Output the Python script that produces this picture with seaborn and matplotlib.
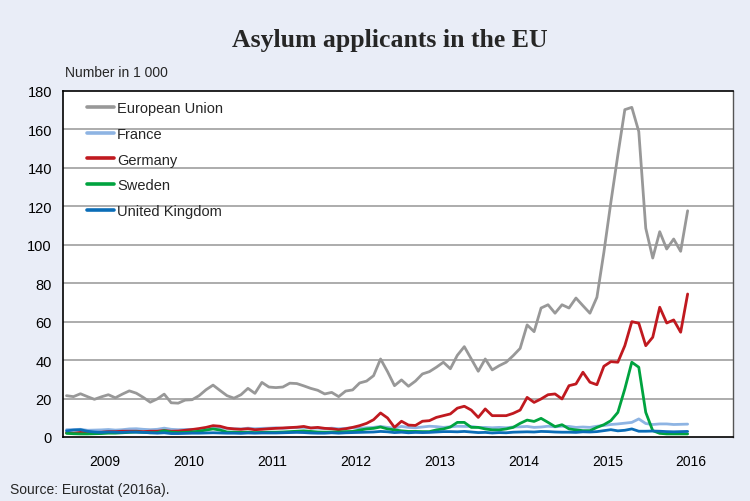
import numpy as np
import pandas as pd
import matplotlib
matplotlib.use("Agg")
import matplotlib.pyplot as plt
import seaborn as sns

# Monthly asylum applicants, thousands, January 2009 - June 2016
start_year = 2009
eu = [21.5, 21, 22.5, 21, 19.6, 20.9, 22, 20.4, 22.3, 24, 22.8, 20.6,
      18.1, 19.8, 22.3, 17.8, 17.6, 19.2, 19.4, 21.5, 24.6, 27, 24.2, 21.5,
      20.2, 22, 25.3, 22.7, 28.4, 26, 25.7, 26, 28, 27.8, 26.6, 25.3,
      24.3, 22.4, 23.2, 21, 23.9, 24.5, 28.1, 29.1, 31.9, 40.6, 34, 26.7,
      29.7, 26.4, 29.1, 32.8, 34, 36.3, 38.9, 35.5, 42.5, 47, 40.6, 34.2,
      40.6, 34.9, 37.1, 38.9, 42.3, 46.1, 58.3, 54.8, 67.1, 68.8, 64.4, 68.8,
      67.1, 72.3, 68.3, 64.4, 72.7, 96.1, 122.1, 146.7, 170.3, 171.5, 158.9, 108.6,
      93.1, 106.8, 97.8, 103, 96.6, 117.7]
france = [3.8, 3.9, 4.0, 3.5, 3.6, 3.7, 3.9, 3.6, 3.8, 4.2, 4.3, 4.0,
          3.8, 4.0, 4.6, 4.0, 3.8, 3.9, 4.0, 3.8, 4.2, 4.4, 4.6, 4.5,
          4.3, 4.2, 4.6, 4.3, 4.5, 4.6, 4.8, 4.5, 4.8, 4.9, 5.0, 4.7,
          4.6, 4.3, 4.6, 4.3, 4.5, 4.8, 4.6, 4.8, 5.0, 5.5, 5.0, 4.6,
          5.5, 5.0, 4.8, 5.2, 5.6, 5.4, 5.0, 5.3, 5.6, 5.5, 5.5, 5.0,
          5.0, 4.8, 5.0, 4.8, 5.2, 5.3, 5.5, 5.0, 5.2, 5.6, 5.3, 5.6,
          5.5, 5.0, 5.2, 5.0, 5.6, 6.0, 6.5, 6.8, 7.2, 7.6, 9.4, 7.0,
          6.5, 6.8, 6.8, 6.5, 6.6, 6.7]
germany = [2.2, 2.0, 2.4, 2.2, 2.3, 2.5, 2.8, 2.8, 3.0, 3.0, 3.0, 2.8,
           3.0, 3.0, 3.4, 3.0, 3.1, 3.5, 3.9, 4.4, 5.0, 5.9, 5.6, 4.6,
           4.2, 4.0, 4.3, 3.8, 4.0, 4.3, 4.5, 4.7, 4.9, 5.1, 5.5, 4.7,
           5.0, 4.5, 4.3, 3.8, 4.3, 5.0, 5.9, 7.1, 9.0, 12.5, 9.9, 5.0,
           8.2, 6.2, 6.0, 8.2, 8.5, 10.2, 11.1, 12.0, 15.0, 16.0, 14.0, 10.2,
           14.6, 11.1, 11.1, 11.1, 12.3, 14.0, 20.6, 18.0, 19.8, 22.0, 22.4, 19.8,
           26.7, 27.6, 33.7, 28.5, 27.2, 36.8, 39.2, 38.9, 47.5, 60.0, 59.2, 47.5,
           51.9, 67.5, 59.3, 60.9, 54.5, 74.4]
sweden = [1.9, 1.7, 1.6, 1.6, 1.7, 1.8, 2.0, 2.0, 2.2, 2.4, 2.6, 2.4,
          2.2, 2.3, 3.3, 2.5, 2.3, 2.4, 2.6, 3.0, 3.6, 4.2, 3.6, 2.6,
          2.5, 2.4, 2.5, 2.3, 2.4, 2.5, 2.5, 2.6, 2.8, 3.0, 3.2, 2.9,
          2.6, 2.5, 2.6, 2.6, 2.8, 2.9, 3.6, 4.2, 4.5, 5.2, 4.2, 3.7,
          3.2, 2.9, 2.9, 2.8, 2.8, 3.7, 4.2, 5.2, 7.6, 7.6, 5.0, 5.0,
          4.2, 3.7, 3.7, 4.2, 5.0, 7.1, 8.8, 8.1, 9.7, 7.6, 5.4, 6.4,
          4.2, 3.7, 3.3, 3.3, 5.0, 6.4, 8.5, 12.8, 25.0, 38.9, 36.3, 12.8,
          3.3, 1.9, 1.6, 1.6, 1.6, 1.6]
uk = [3.2, 3.6, 3.8, 3.0, 2.6, 2.4, 2.6, 2.5, 2.4, 2.6, 2.5, 2.4,
      2.2, 2.0, 2.2, 1.8, 1.8, 1.9, 2.0, 2.0, 2.1, 2.2, 2.1, 2.0,
      2.0, 1.9, 2.1, 2.0, 2.1, 2.1, 2.1, 2.2, 2.3, 2.4, 2.3, 2.1,
      2.0, 2.0, 2.2, 2.0, 2.2, 2.3, 2.4, 2.5, 2.6, 2.9, 2.7, 2.3,
      2.5, 2.2, 2.4, 2.3, 2.4, 2.6, 2.8, 2.8, 2.7, 2.9, 2.6, 2.3,
      2.4, 2.1, 2.3, 2.2, 2.5, 2.6, 2.7, 2.6, 2.9, 2.8, 2.6, 2.5,
      2.5, 2.4, 2.7, 2.6, 2.8, 3.3, 3.8, 3.2, 3.5, 4.2, 3.0, 3.0,
      3.1, 3.0, 2.8, 2.7, 2.8, 2.9]

series_names = ["European Union", "France", "Germany", "Sweden", "United Kingdom"]
series_colors = ["#989898", "#8EB4E3", "#C0191F", "#00A33F", "#0B6DB7"]
year_labels = ["2009", "2010", "2011", "2012", "2013", "2014", "2015", "2016"]
y_ticks = [0, 20, 40, 60, 80, 100, 120, 140, 160, 180]

# Position each month at its middle on a fractional-year axis
months = np.arange(len(eu))
x_pos = start_year + (months + 0.5) / 12.0

frames = []
for name, vals in zip(series_names, [eu, france, germany, sweden, uk]):
    frames.append(pd.DataFrame({"date": x_pos, "value": vals, "series": name}))
df = pd.concat(frames, ignore_index=True)

sns.set_theme(style="white")
plt.rcParams["font.family"] = ["Liberation Sans", "DejaVu Sans"]

bg = "#E9EDF7"
fig = plt.figure(figsize=(7.5, 5.02), dpi=100, facecolor=bg)
ax = fig.add_axes([63 / 750, 1 - 438 / 502, 670 / 750, 346 / 502])
ax.set_facecolor("white")

for yv in y_ticks[1:-1]:
    ax.axhline(yv, color="#A6A6A6", lw=1.3, zorder=0)

sns.lineplot(data=df, x="date", y="value", hue="series", hue_order=series_names,
             palette=dict(zip(series_names, series_colors)), linewidth=2.0,
             ax=ax, legend=False, estimator=None, sort=False)

ax.set_xlim(start_year, start_year + len(year_labels))
ax.set_ylim(0, 180)
ax.set_xlabel("")
ax.set_ylabel("")

# Year boundaries as ticks, labels centred inside each year
ax.set_xticks(np.arange(start_year, start_year + len(year_labels) + 1))
ax.set_xticklabels([])
ax.set_xticks(np.arange(len(year_labels)) + start_year + 0.5, minor=True)
ax.set_xticklabels(year_labels, minor=True)
ax.tick_params(axis="x", which="major", direction="out", length=5, width=1, color="black")
ax.tick_params(axis="x", which="minor", length=0, pad=12, labelsize=10, labelcolor="black")
ax.set_yticks(y_ticks)
ax.set_yticklabels([str(v) for v in y_ticks])
ax.tick_params(axis="y", direction="out", length=5, width=1, color="black",
               labelsize=10.5, labelcolor="black", pad=3)

for side in ["left", "bottom", "top"]:
    ax.spines[side].set_color("black")
    ax.spines[side].set_linewidth(1.2)
ax.spines["right"].set_color("#555555")
ax.spines["right"].set_linewidth(1.0)

handles = [plt.Line2D([], [], color=c, lw=2.6) for c in series_colors]
leg = ax.legend(handles, series_names, loc="upper left", bbox_to_anchor=(0.02, 1.0),
                frameon=False, fontsize=10.5, handlelength=1.9, handletextpad=0.2,
                labelspacing=0.8, borderaxespad=0.3)

fig.text(390 / 750, 1 - 40 / 502, "Asylum applicants in the EU", ha="center", va="center",
         fontsize=18.5, fontweight="bold", family="Liberation Serif")
fig.text(65 / 750, 1 - 73 / 502, "Number in 1 000", ha="left", va="center", fontsize=10)
fig.text(10 / 750, 1 - 490 / 502, "Source: Eurostat (2016a).", ha="left", va="center", fontsize=10)

fig.savefig("out.png", dpi=100, facecolor=bg)
